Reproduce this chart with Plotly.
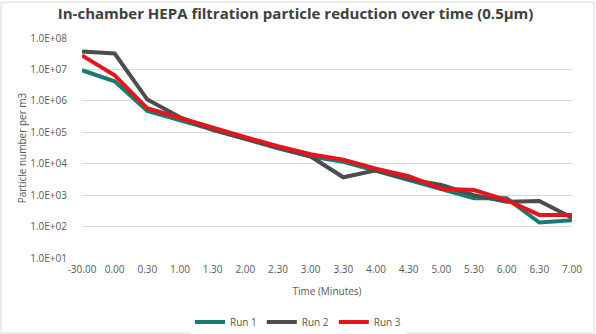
import plotly.graph_objects as go

categories = ["-30.00", "0.00", "0.30", "1.00", "1.30", "2.00", "2.30", "3.00",
              "3.30", "4.00", "4.30", "5.00", "5.30", "6.00", "6.30", "7.00"]
run1 = [9.4e6, 4.2e6, 4.8e5, 2.4e5, 1.15e5, 6.0e4, 3.1e4, 1.7e4,
        1.15e4, 5.9e3, 3.0e3, 1.6e3, 8.0e2, 8.0e2, 1.35e2, 1.6e2]
run2 = [3.7e7, 3.2e7, 1.1e6, 3.0e5, 1.2e5, 6.2e4, 3.2e4, 1.7e4,
        3.7e3, 6.2e3, 3.2e3, 2.1e3, 1.0e3, 6.2e2, 6.5e2, 1.9e2]
run3 = [2.8e7, 6.5e6, 5.8e5, 2.8e5, 1.45e5, 7.0e4, 3.6e4, 2.0e4,
        1.35e4, 7.0e3, 4.0e3, 1.6e3, 1.45e3, 6.9e2, 2.35e2, 2.35e2]
series_names = ["Run 1", "Run 2", "Run 3"]
tick_vals = [1e1, 1e2, 1e3, 1e4, 1e5, 1e6, 1e7, 1e8]
tick_text = ["1.0E+01", "1.0E+02", "1.0E+03", "1.0E+04", "1.0E+05", "1.0E+06", "1.0E+07", "1.0E+08"]

colors = ["#1b7a72", "#4d4d4d", "#e8141c"]

fig = go.Figure()
for name, vals, c in zip(series_names, [run1, run2, run3], colors):
    fig.add_trace(go.Scatter(x=categories, y=vals, name=name, mode="lines",
                             line=dict(color=c, width=4)))

fig.update_layout(
    width=596, height=334,
    margin=dict(l=82, r=24, t=37.5, b=76),
    paper_bgcolor="white", plot_bgcolor="white",
    font=dict(family="Open Sans", color="#595959", size=10),
    title=dict(text="<b>In-chamber HEPA filtration particle reduction over time (0.5μm)</b>",
               x=0.496, xanchor="center", xref="container", y=1 - 14 / 334, yref="container", yanchor="middle",
               font=dict(size=15, color="#404040", family="Open Sans")),
    showlegend=True,
    legend=dict(orientation="h", x=0.5, xanchor="center", xref="container", y=1 - 322 / 334, yref="container",
                yanchor="middle", font=dict(size=10, color="#595959"), itemwidth=30, tracegroupgap=0),
    xaxis=dict(type="category", range=[0, 15], showgrid=False, showline=False, automargin=False,
               ticks="", ticklabelstandoff=4, tickfont=dict(size=10, color="#595959"),
               title=dict(text="Time (Minutes)", font=dict(size=10, color="#595959"), standoff=12)),
    yaxis=dict(type="log", range=[1, 8], tickvals=tick_vals, ticktext=tick_text, automargin=False,
               showgrid=True, gridcolor="#d9d9d9", gridwidth=1, zeroline=False,
               showline=False, ticks="", ticklabelstandoff=14,
               tickfont=dict(size=10, color="#595959"),
               title=dict(text="Particle number per m3", font=dict(size=10, color="#595959"), standoff=1)),
)
fig.add_shape(type="rect", xref="paper", yref="paper",
              x0=-81/490, x1=1 + 22/490, y0=-75/220.5, y1=1 + 36/220.5,
              line=dict(color="#d9d9d9", width=1), fillcolor="rgba(0,0,0,0)", layer="below")

fig.write_html("out.html")
